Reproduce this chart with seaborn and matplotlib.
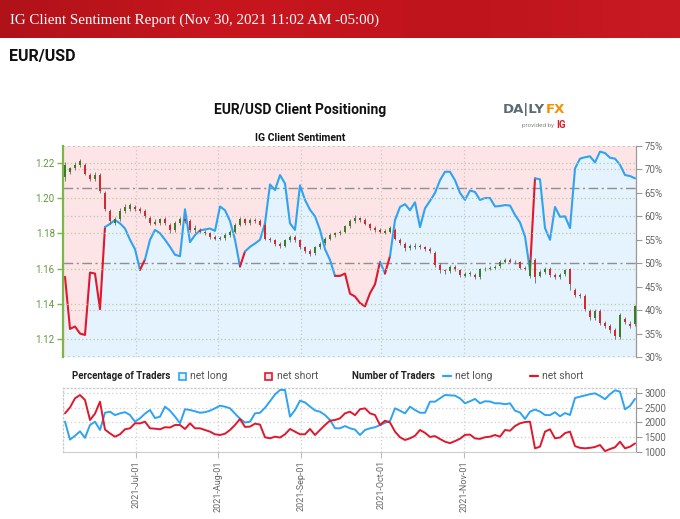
import numpy as np
import matplotlib
matplotlib.use("Agg")
import matplotlib.pyplot as plt
import seaborn as sns
from matplotlib.patches import Rectangle
from matplotlib.lines import Line2D
from matplotlib.colors import LinearSegmentedColormap

# ---------------- data ----------------
net_long_pct = [
    47.1, 36.0, 36.5, 35.0, 34.7, 48.0, 47.8, 40.2, 57.7, 58.4,
    59.2, 58.5, 57.4, 55.0, 53.0, 48.6, 50.8, 55.0, 57.1, 56.4,
    55.0, 53.5, 51.8, 51.5, 61.5, 54.5, 56.0, 57.0, 57.2, 57.4,
    56.9, 62.1, 61.3, 59.0, 55.0, 49.3, 52.5, 53.5, 54.2, 55.0,
    58.5, 66.8, 65.6, 68.8, 67.0, 58.5, 57.1, 66.6, 63.5, 61.4,
    60.0, 57.1, 53.0, 50.7, 47.3, 47.3, 47.8, 43.5, 42.9, 41.5,
    40.8, 43.6, 45.5, 50.3, 47.8, 51.5, 59.2, 62.0, 62.6, 61.3,
    63.0, 57.7, 61.7, 63.3, 65.0, 67.7, 69.5, 69.5, 67.7, 65.0,
    63.5, 65.5, 65.2, 63.5, 63.9, 63.9, 62.1, 62.2, 62.4, 62.3,
    60.3, 58.7, 55.7, 48.5, 68.1, 67.9, 57.5, 55.0, 62.0, 59.9,
    60.0, 57.5, 70.2, 72.3, 72.6, 72.8, 71.5, 73.8, 73.5, 72.5,
    72.3, 71.0, 68.8, 68.6, 68.1,
]

price_open = [
    1.2120, 1.2150, 1.2170, 1.2190, 1.2190, 1.2130, 1.2110, 1.2130, 1.2030, 1.1930,
    1.1860, 1.1880, 1.1930, 1.1940, 1.1950, 1.1940, 1.1930, 1.1890, 1.1855, 1.1860,
    1.1880, 1.1850, 1.1820, 1.1860, 1.1880, 1.1870, 1.1820, 1.1820, 1.1810, 1.1800,
    1.1780, 1.1770, 1.1775, 1.1790, 1.1810, 1.1850, 1.1880, 1.1860, 1.1875, 1.1870,
    1.1850, 1.1770, 1.1760, 1.1740, 1.1730, 1.1760, 1.1780, 1.1760, 1.1720, 1.1700,
    1.1690, 1.1720, 1.1745, 1.1770, 1.1790, 1.1800, 1.1810, 1.1840, 1.1870, 1.1885,
    1.1875, 1.1855, 1.1830, 1.1820, 1.1805, 1.1810, 1.1820, 1.1765, 1.1740, 1.1715,
    1.1720, 1.1730, 1.1720, 1.1710, 1.1690, 1.1620, 1.1590, 1.1585, 1.1610, 1.1590,
    1.1560, 1.1570, 1.1565, 1.1550, 1.1595, 1.1600, 1.1605, 1.1615, 1.1640, 1.1650,
    1.1640, 1.1635, 1.1605, 1.1560, 1.1650, 1.1560, 1.1580, 1.1600, 1.1565, 1.1550,
    1.1570, 1.1600, 1.1480, 1.1450, 1.1445, 1.1360, 1.1320, 1.1360, 1.1290, 1.1275,
    1.1250, 1.1210, 1.1315, 1.1285, 1.1285,
]
price_close = [
    1.2190, 1.2170, 1.2190, 1.2210, 1.2140, 1.2110, 1.2130, 1.2040, 1.1940, 1.1870,
    1.1880, 1.1930, 1.1950, 1.1960, 1.1940, 1.1930, 1.1900, 1.1860, 1.1865, 1.1880,
    1.1860, 1.1820, 1.1860, 1.1880, 1.1870, 1.1820, 1.1830, 1.1810, 1.1800, 1.1780,
    1.1770, 1.1775, 1.1790, 1.1810, 1.1850, 1.1880, 1.1860, 1.1875, 1.1870, 1.1850,
    1.1770, 1.1760, 1.1740, 1.1730, 1.1760, 1.1780, 1.1760, 1.1720, 1.1700, 1.1685,
    1.1720, 1.1740, 1.1770, 1.1790, 1.1800, 1.1810, 1.1840, 1.1870, 1.1890, 1.1875,
    1.1855, 1.1830, 1.1820, 1.1810, 1.1815, 1.1830, 1.1770, 1.1745, 1.1715, 1.1730,
    1.1730, 1.1720, 1.1710, 1.1700, 1.1620, 1.1590, 1.1585, 1.1610, 1.1595, 1.1565,
    1.1570, 1.1575, 1.1550, 1.1595, 1.1600, 1.1605, 1.1610, 1.1640, 1.1650, 1.1640,
    1.1635, 1.1605, 1.1600, 1.1650, 1.1555, 1.1580, 1.1600, 1.1565, 1.1550, 1.1565,
    1.1590, 1.1510, 1.1450, 1.1445, 1.1370, 1.1325, 1.1360, 1.1290, 1.1275, 1.1250,
    1.1215, 1.1335, 1.1295, 1.1275, 1.1385,
]
price_high = [
    1.2205, 1.2180, 1.2205, 1.2225, 1.2200, 1.2145, 1.2150, 1.2145, 1.2040, 1.1940,
    1.1895, 1.1945, 1.1965, 1.1975, 1.1960, 1.1950, 1.1940, 1.1900, 1.1880, 1.1890,
    1.1895, 1.1860, 1.1870, 1.1895, 1.1890, 1.1880, 1.1845, 1.1830, 1.1820, 1.1810,
    1.1790, 1.1785, 1.1800, 1.1820, 1.1860, 1.1895, 1.1890, 1.1890, 1.1885, 1.1880,
    1.1860, 1.1780, 1.1770, 1.1750, 1.1770, 1.1790, 1.1790, 1.1770, 1.1730, 1.1710,
    1.1730, 1.1750, 1.1780, 1.1800, 1.1810, 1.1820, 1.1850, 1.1880, 1.1905, 1.1895,
    1.1885, 1.1860, 1.1840, 1.1830, 1.1825, 1.1840, 1.1830, 1.1775, 1.1750, 1.1740,
    1.1745, 1.1740, 1.1730, 1.1720, 1.1700, 1.1630, 1.1600, 1.1620, 1.1620, 1.1600,
    1.1580, 1.1585, 1.1575, 1.1605, 1.1610, 1.1615, 1.1620, 1.1650, 1.1660, 1.1660,
    1.1650, 1.1645, 1.1615, 1.1665, 1.1660, 1.1590, 1.1610, 1.1610, 1.1575, 1.1575,
    1.1600, 1.1605, 1.1490, 1.1460, 1.1455, 1.1370, 1.1370, 1.1370, 1.1300, 1.1285,
    1.1260, 1.1350, 1.1325, 1.1300, 1.1395,
]
price_low = [
    1.2100, 1.2140, 1.2160, 1.2175, 1.2130, 1.2100, 1.2100, 1.2030, 1.1930, 1.1855,
    1.1850, 1.1870, 1.1915, 1.1930, 1.1930, 1.1915, 1.1890, 1.1845, 1.1845, 1.1850,
    1.1850, 1.1805, 1.1810, 1.1850, 1.1860, 1.1810, 1.1805, 1.1800, 1.1790, 1.1770,
    1.1760, 1.1760, 1.1765, 1.1780, 1.1800, 1.1840, 1.1850, 1.1850, 1.1860, 1.1840,
    1.1760, 1.1750, 1.1730, 1.1715, 1.1720, 1.1750, 1.1750, 1.1710, 1.1690, 1.1670,
    1.1680, 1.1710, 1.1735, 1.1760, 1.1780, 1.1790, 1.1800, 1.1830, 1.1860, 1.1865,
    1.1845, 1.1820, 1.1810, 1.1800, 1.1795, 1.1800, 1.1760, 1.1735, 1.1700, 1.1705,
    1.1710, 1.1710, 1.1700, 1.1690, 1.1610, 1.1575, 1.1570, 1.1575, 1.1585, 1.1555,
    1.1550, 1.1560, 1.1540, 1.1540, 1.1585, 1.1590, 1.1595, 1.1605, 1.1630, 1.1630,
    1.1625, 1.1595, 1.1590, 1.1545, 1.1520, 1.1550, 1.1570, 1.1555, 1.1540, 1.1540,
    1.1560, 1.1480, 1.1440, 1.1435, 1.1360, 1.1310, 1.1310, 1.1280, 1.1265, 1.1235,
    1.1200, 1.1200, 1.1285, 1.1265, 1.1275,
]

long_traders = [
    2030, 1420, 1550, 1700, 1480, 1915, 2027, 1746, 2330, 2366,
    2250, 2310, 2350, 2254, 2027, 2141, 2300, 2424, 2150, 2197,
    2536, 2400, 2200, 1973, 2450, 2424, 2380, 2330, 2350, 2400,
    2480, 2570, 2536, 2480, 2300, 2130, 2000, 2027, 2310, 2330,
    2500, 2720, 2950, 3102, 3102, 2197, 2420, 2740, 2680, 2540,
    2410, 2366, 2254, 2085, 1803, 1803, 1880, 1803, 1760, 1576,
    1746, 1803, 1840, 1910, 1990, 2050, 2480, 2400, 2310, 2536,
    2424, 2330, 2330, 2706, 2706, 2819, 2932, 2920, 2910, 2819,
    2651, 2720, 2800, 2651, 2720, 2710, 2651, 2650, 2620, 2651,
    2400, 2340, 2120, 2366, 2440, 2370, 2254, 2250, 2350, 2210,
    2320, 2254, 2830, 2875, 2915, 2960, 2988, 2900, 2790, 2960,
    3090, 3045, 2447, 2560, 2800,
]
short_traders = [
    2310, 2510, 2819, 2930, 2763, 2085, 2300, 2706, 1760, 1630,
    1519, 1600, 1770, 1803, 1973, 1970, 2027, 1803, 1790, 1770,
    1840, 1830, 1915, 1915, 1780, 1973, 1803, 1803, 1746, 1690,
    1600, 1576, 1620, 1746, 1915, 2120, 1850, 1860, 1960, 1930,
    1500, 1464, 1519, 1490, 1600, 1780, 1690, 1600, 1600, 1780,
    1576, 1746, 1915, 2060, 2085, 2141, 2310, 2366, 2250, 2450,
    2480, 2310, 2254, 1915, 2060, 2000, 1690, 1500, 1407, 1464,
    1550, 1746, 1650, 1510, 1540, 1440, 1350, 1300, 1370, 1450,
    1580, 1590, 1460, 1445, 1500, 1519, 1576, 1519, 1746, 1720,
    1880, 1973, 2015, 2027, 1125, 1180, 1690, 1770, 1464, 1490,
    1640, 1690, 1200, 1140, 1125, 1140, 1170, 1237, 1030, 1100,
    1160, 1349, 1125, 1180, 1290,
]

month_ticks = [14.2, 30.6, 47.2, 63.2, 79.8]
month_labels = ["2021-Jul-01", "2021-Aug-01", "2021-Sep-01", "2021-Oct-01", "2021-Nov-01"]
price_ticks = [1.12, 1.14, 1.16, 1.18, 1.20, 1.22]
price_labels = ["1.12", "1.14", "1.16", "1.18", "1.20", "1.22"]
pct_ticks = [30, 35, 40, 45, 50, 55, 60, 65, 70, 75]
pct_labels = ["30%", "35%", "40%", "45%", "50%", "55%", "60%", "65%", "70%", "75%"]
pct_grid = [40, 60, 70]
pct_refs = [50, 66]
trader_ticks = [1000, 1500, 2000, 2500, 3000]
trader_labels = ["1000", "1500", "2000", "2500", "3000"]

# ---------------- style ----------------
sns.set_style("white")
plt.rcParams["font.family"] = ["Roboto", "DejaVu Sans"]

BLUE = "#2ea3f2"
RED = "#e0182d"
PINK_BG = "#fde4e7"
BLUE_BG = "#e4f3fd"
GREEN_C = "#3a7d26"
RED_C = "#d42a2f"
AX_GREEN = "#7ab648"
GRID_GREEN = "#b5cf98"
GREY = "#9a9a9a"
TXT = "#555555"

W, H = 680, 519
fig = plt.figure(figsize=(W / 100, H / 100), dpi=100)
fig.patch.set_facecolor("white")


def fx(px):
    return px / W


def fy(py):
    return 1 - py / H


# ---------------- header banner ----------------
bax = fig.add_axes([0, fy(38), 1, 38 / H])
grad = np.linspace(0, 1, 256)[None, :]
cmap_b = LinearSegmentedColormap.from_list("b", ["#b0121a", "#c8161f", "#bf141c", "#c81a22"])
bax.imshow(grad, aspect="auto", cmap=cmap_b, extent=[0, 1, 0, 1])
bax.set_axis_off()
fig.text(fx(10), fy(20), "IG Client Sentiment Report (Nov 30, 2021 11:02 AM -05:00)",
         color="white", fontsize=10.8, family=["Liberation Serif", "DejaVu Serif"],
         va="center", ha="left")
fig.text(fx(9), fy(57), "EUR/USD", color="#111111", fontsize=11.5, fontweight="bold",
         va="center", ha="left")

fig.text(fx(300), fy(110), "EUR/USD Client Positioning", color="#111111", fontsize=10,
         fontweight="bold", va="center", ha="center")
fig.text(fx(300), fy(138), "IG Client Sentiment", color="#111111", fontsize=7.5,
         fontweight="bold", va="center", ha="center")

# DailyFX logo
fig.text(fx(503), fy(110), "DA|LY", color="#5d6a72", fontsize=9.5, fontweight="bold",
         va="center", ha="left", family=["DejaVu Sans"])
fig.text(fx(546), fy(110), "FX", color="#f39200", fontsize=9.5, fontweight="bold",
         va="center", ha="left", family=["DejaVu Sans"])
fig.text(fx(554), fy(125), "provided by", color="#888888", fontsize=4.5,
         va="center", ha="right")
fig.text(fx(556), fy(125), "IG", color="#e0182d", fontsize=7, fontweight="bold",
         va="center", ha="left")

# ---------------- main panel ----------------
x = np.arange(len(net_long_pct))
pct = np.array(net_long_pct)
xmin, xmax = -0.4, 114.2

ax = fig.add_axes([fx(63), fy(357), (636 - 63) / W, (357 - 146) / H])
axp = ax.twinx()

ax.set_facecolor(PINK_BG)
ax.fill_between(x, 30, pct, color=BLUE_BG, lw=0, zorder=1)
ax.set_xlim(xmin, xmax)
ax.set_ylim(30, 75)

for v in pct_grid:
    ax.axhline(v, color="#c2c2c2", lw=0.9, ls=(0, (1, 2)), zorder=2)
for v in pct_refs:
    ax.axhline(v, color="#8f8f8f", lw=1.0, ls=(0, (7, 2.5, 1.5, 2.5)), zorder=2)
for m in month_ticks:
    ax.axvline(m, color="#c8c8c8", lw=0.9, ls=(0, (1, 2)), zorder=2)

# sentiment line, segment colour follows its starting point
seg_col = [RED if v < 50 else BLUE for v in pct[:-1]]
start = 0
for k in range(1, len(seg_col) + 1):
    if k == len(seg_col) or seg_col[k] != seg_col[start]:
        ax.plot(x[start:k + 1], pct[start:k + 1], color=seg_col[start], lw=1.5,
                solid_joinstyle="round", solid_capstyle="round", zorder=4)
        start = k

ax.set_xticks([])
for s in ["top", "bottom", "left"]:
    ax.spines[s].set_visible(False)
ax.spines["right"].set_color(GREY)
ax.spines["right"].set_linewidth(0.9)

# price candles on the twin axis
axp.set_xlim(xmin, xmax)
axp.set_ylim(1.10977, 1.22966)
axp.patch.set_visible(False)
for v in price_ticks:
    axp.axhline(v, color=GRID_GREEN, lw=0.9, ls=(0, (1, 2)), zorder=2)
axp.axhline(1.10977, color=GRID_GREEN, lw=1.2, ls=(0, (1, 2)), zorder=2)
axp.axhline(1.22966, color="#b8b8a8", lw=1.2, ls=(0, (1, 2)), zorder=2)

o = np.array(price_open)
c = np.array(price_close)
hi = np.array(price_high)
lo = np.array(price_low)
cc = [GREEN_C if cv >= ov else RED_C for ov, cv in zip(o, c)]
axp.vlines(x, lo, hi, colors="#6a6a6a", lw=0.6, zorder=5)
body = np.maximum(np.abs(c - o), 0.0004)
axp.bar(x, body, bottom=np.minimum(o, c), width=0.5, color=cc, lw=0, zorder=6)
axp.set_xticks([])
for s in ["top", "bottom", "right"]:
    axp.spines[s].set_visible(False)
axp.spines["left"].set_color(AX_GREEN)
axp.spines["left"].set_linewidth(1.6)

# tick placement after twinning: percentages right, price left
ax.yaxis.set_ticks_position("right")
ax.yaxis.set_label_position("right")
ax.set_yticks(pct_ticks)
ax.set_yticklabels(pct_labels)
ax.tick_params(axis="y", which="both", left=False, labelleft=False, right=True, labelright=True,
               length=4, width=0.8, color=GREY, labelsize=7, labelcolor="#666666", pad=2)

axp.yaxis.set_ticks_position("left")
axp.yaxis.set_label_position("left")
axp.set_yticks(price_ticks)
axp.set_yticklabels(price_labels)
axp.tick_params(axis="y", which="both", left=True, labelleft=True, right=False, labelright=False,
                length=4, width=1.0, color=AX_GREEN, labelsize=7, labelcolor="#5f9a3a", pad=2)

# ---------------- legend row ----------------
ly = 376
fig.text(fx(72), fy(ly), "Percentage of Traders", fontsize=7, fontweight="bold",
         color="#222222", va="center", ha="left")
fig.patches.append(Rectangle((fx(179), fy(380)), 7 / W, 7 / H, transform=fig.transFigure,
                             facecolor="#e4f3fd", edgecolor=BLUE, lw=1.2))
fig.text(fx(190), fy(ly), "net long", fontsize=7.5, color=TXT, va="center", ha="left")
fig.patches.append(Rectangle((fx(265), fy(380)), 7 / W, 7 / H, transform=fig.transFigure,
                             facecolor="#fde4e7", edgecolor=RED, lw=1.2))
fig.text(fx(277), fy(ly), "net short", fontsize=7.5, color=TXT, va="center", ha="left")
fig.text(fx(352), fy(ly), "Number of Traders", fontsize=7, fontweight="bold",
         color="#222222", va="center", ha="left")
fig.lines.append(Line2D([fx(443), fx(451)], [fy(ly), fy(ly)], transform=fig.transFigure,
                        color=BLUE, lw=1.6))
fig.text(fx(455), fy(ly), "net long", fontsize=7.5, color=TXT, va="center", ha="left")
fig.lines.append(Line2D([fx(530), fx(538)], [fy(ly), fy(ly)], transform=fig.transFigure,
                        color=RED, lw=1.6))
fig.text(fx(542), fy(ly), "net short", fontsize=7.5, color=TXT, va="center", ha="left")

# ---------------- number of traders panel ----------------
axn = fig.add_axes([fx(63), fy(452), (636 - 63) / W, (452 - 388) / H])
axn.set_facecolor("white")
for v in trader_ticks[1:]:
    axn.axhline(v, color="#cfcfcf", lw=0.9, ls=(0, (1, 2)), zorder=1)
for m in month_ticks:
    axn.axvline(m, color="#cfcfcf", lw=0.9, ls=(0, (1, 2)), zorder=1)
sns.lineplot(x=x, y=np.array(long_traders), color=BLUE, lw=1.4, ax=axn, zorder=3)
sns.lineplot(x=x, y=np.array(short_traders), color=RED, lw=1.4, ax=axn, zorder=3)
axn.set_xlim(xmin, xmax)
axn.set_ylim(1000, 3169)
axn.set_ylabel("")
axn.yaxis.tick_right()
axn.set_yticks(trader_ticks)
axn.set_yticklabels(trader_labels)
axn.tick_params(axis="y", right=True, left=False, length=4, width=0.8, color=GREY,
                labelsize=7, labelcolor="#666666", pad=2)
axn.set_xticks(month_ticks)
axn.set_xticklabels(month_labels, rotation=90)
axn.tick_params(axis="x", bottom=True, length=4, width=0.8, color="#bbbbbb",
                labelsize=6.5, labelcolor="#666666", pad=2)
for s in ["top", "left"]:
    axn.spines[s].set_color("#c8c8c8")
    axn.spines[s].set_linestyle((0, (1, 2)))
    axn.spines[s].set_linewidth(0.9)
axn.spines["bottom"].set_color("#cccccc")
axn.spines["right"].set_color(GREY)
axn.spines["right"].set_linewidth(0.9)

fig.savefig("out.png", dpi=100, facecolor="white")
